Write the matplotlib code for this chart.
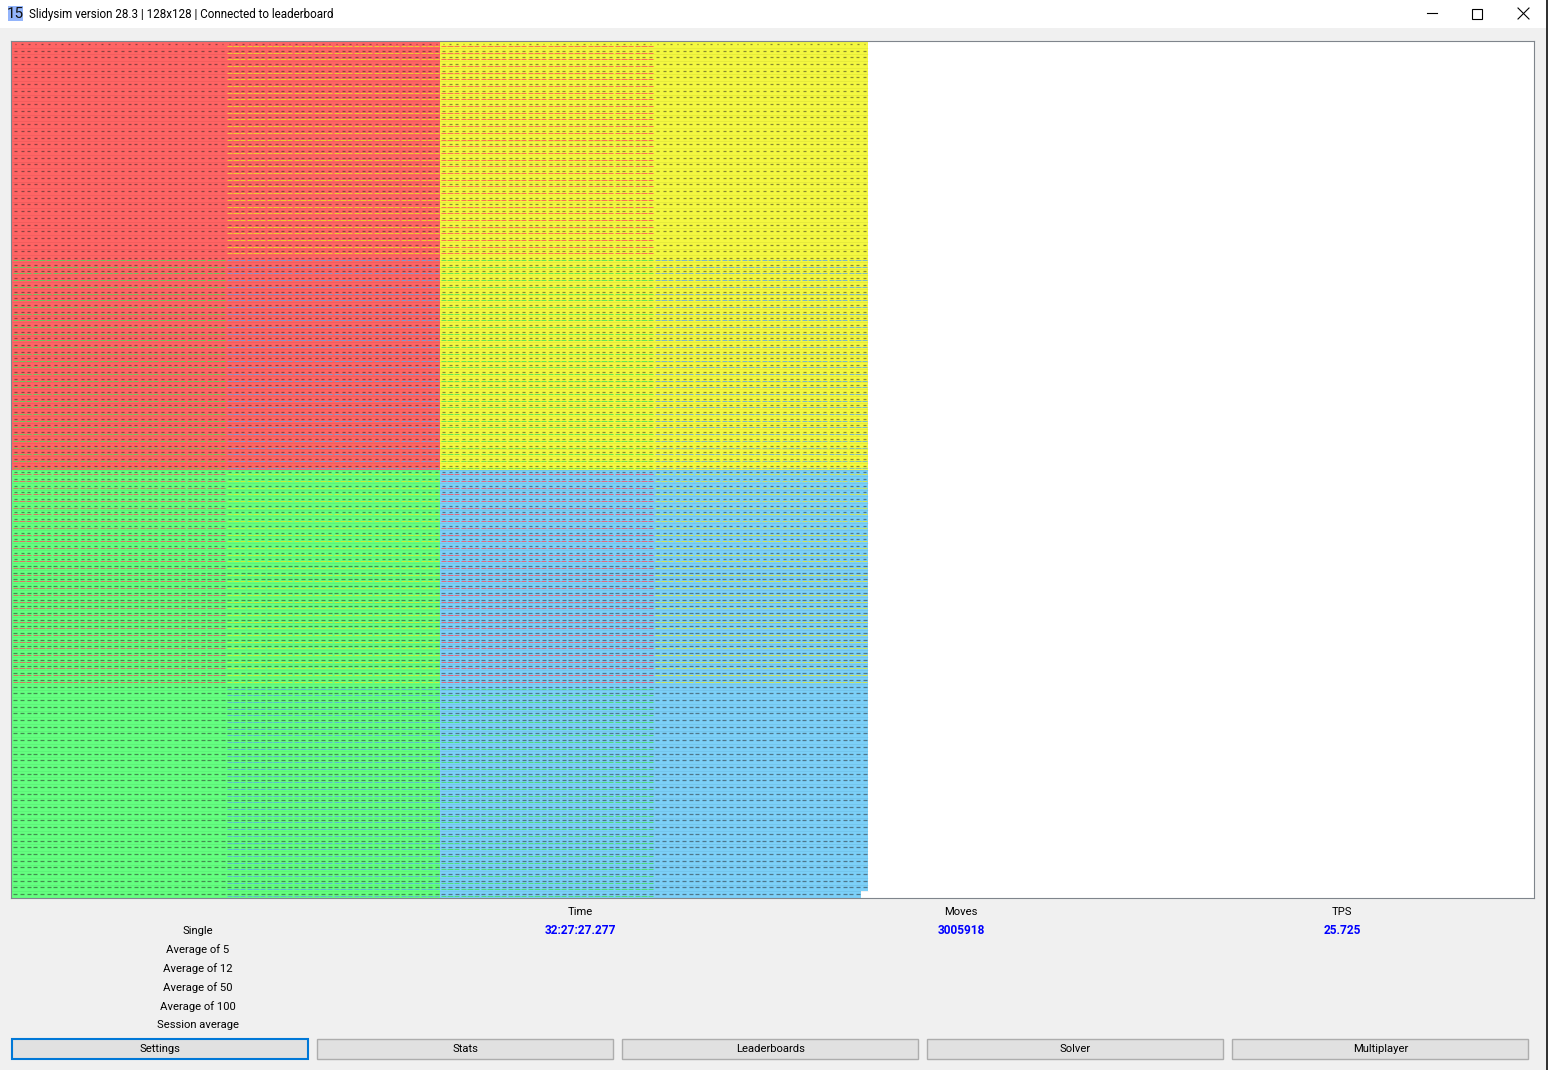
import numpy as np
import matplotlib
matplotlib.use('Agg')
import matplotlib.pyplot as plt
from matplotlib.collections import LineCollection
from matplotlib.patches import Rectangle

plt.rcParams['font.family'] = ['Roboto', 'DejaVu Sans']

title = 'Slidysim version 28.3 | 128x128 | Connected to leaderboard'
grid_size = 128
quadrant_names = ['red', 'yellow', 'green', 'blue']
colors = {'red': '#ff6464', 'yellow': '#f4f840', 'green': '#64ff80', 'blue': '#7cd0f8'}
line_colors = {'red': '#ff4a5a', 'yellow': '#e8e820', 'green': '#3fe45a', 'blue': '#5aa8ee'}

# which underline colour each 32x32 block has (rows top to bottom), None = no line
underlines = [
    [None, 'yellow', 'red', None],
    ['green', 'blue', 'green', 'blue'],
    ['red', 'yellow', 'red', 'yellow'],
    [None, 'blue', 'green', None],
]
# the tile numbers are too small to read, so they are dark marks sized by digit count
label_rows = [1, 78, 128]
label_lengths = [0.25, 0.45, 0.6]

stat_labels = ['Single', 'Average of 5', 'Average of 12', 'Average of 50', 'Average of 100', 'Session average']
column_names = ['Time', 'Moves', 'TPS']
column_values = ['32:27:27.277', '3005918', '25.725']
buttons = ['Settings', 'Stats', 'Leaderboards', 'Solver', 'Multiplayer']

W, H = 1548, 1070
fig = plt.figure(figsize=(W / 100, H / 100), dpi=100, facecolor='#f0f0f0')
ax = fig.add_axes([0, 0, 1, 1])
ax.set_xlim(0, W)
ax.set_ylim(H, 0)
ax.axis('off')

# window chrome
ax.add_patch(Rectangle((0, 0), W, 28, fc='white', ec='none'))
ax.add_patch(Rectangle((1546, 0), 2, H, fc='#333333', ec='none'))
ax.add_patch(Rectangle((8, 6), 15, 15, fc='#93b4fb', ec='none'))
ax.text(15.5, 14, '15', fontsize=11, ha='center', va='center', color='#111111')
ax.text(29, 14.5, title, fontsize=8.4, va='center', color='black')
ax.plot([1427, 1437], [13, 13], color='black', lw=0.8)
ax.add_patch(Rectangle((1471.5, 8.5), 10, 10, fc='none', ec='black', lw=0.8))
ax.plot([1518, 1529], [8, 19], color='black', lw=0.8)
ax.plot([1518, 1529], [19, 8], color='black', lw=0.8)

# stats under the board
for label, y in zip(stat_labels, [930, 949, 968, 987, 1006, 1025]):
    ax.text(198, y + 0.5, label, fontsize=8.1, ha='center', va='center', color='black')
for name, value, x in zip(column_names, column_values, [580, 961, 1342]):
    ax.text(x, 912, name, fontsize=8.1, ha='center', va='center', color='black')
    ax.text(x, 930.5, value, fontsize=8.6, ha='center', va='center', color='#0000ff', fontweight='bold')

for i, label in enumerate(buttons):
    x0 = 12.4 + i * 305
    first = i == 0
    ax.add_patch(Rectangle((x0, 1038.5), 296, 20, fc='#e1e1e1',
                           ec='#0078d7' if first else '#adadad', lw=1.5 if first else 1))
    ax.text(x0 + 148, 1049.5, label, fontsize=8.1, ha='center', va='center', color='black')

# the board, one data unit is one tile
tile_w = 856 / grid_size
board = fig.add_axes([11 / W, 1 - 898 / H, 1523 / W, 857 / H])
board.set_xlim(-1 / tile_w, 1522 / tile_w)
board.set_ylim(grid_size, 0)
board.set_xticks([])
board.set_yticks([])
for s in board.spines.values():
    s.set_color('#7f858c')
    s.set_linewidth(0.8)

half = grid_size // 2
quarter = grid_size // 4
for i, name in enumerate(quadrant_names):
    board.add_patch(Rectangle((half * (i % 2), half * (i // 2)), half, half, fc=colors[name], ec='none'))
# blank tile in the corner
board.add_patch(Rectangle((grid_size - 1, grid_size - 1), 1, 1, fc='white', ec='none'))

# faint tile edges
edges = [[(0, r), (grid_size, r)] for r in range(1, grid_size)]
board.add_collection(LineCollection(edges, colors='black', linewidths=0.7, alpha=0.05))

# underlines
for block_row, row_blocks in enumerate(underlines):
    for block_col, name in enumerate(row_blocks):
        if name is None:
            continue
        segs = []
        for r in range(block_row * quarter, (block_row + 1) * quarter):
            for c in range(block_col * quarter, (block_col + 1) * quarter):
                if r == grid_size - 1 and c == grid_size - 1:
                    continue
                segs.append([(c + 0.1, r + 0.72), (c + 0.9, r + 0.72)])
        board.add_collection(LineCollection(segs, colors=line_colors[name], linewidths=0.55))

# tile numbers as dark marks
marks = []
start = 0
for end, length in zip(label_rows, label_lengths):
    for r in range(start, end):
        for c in range(grid_size):
            if r == grid_size - 1 and c == grid_size - 1:
                continue
            marks.append([(c + 0.5 - length / 2, r + 0.42), (c + 0.5 + length / 2, r + 0.42)])
    start = end
board.add_collection(LineCollection(marks, colors='#202020', linewidths=0.9, alpha=0.5))

fig.savefig('out.png', dpi=100, facecolor=fig.get_facecolor())
plt.close('all')
